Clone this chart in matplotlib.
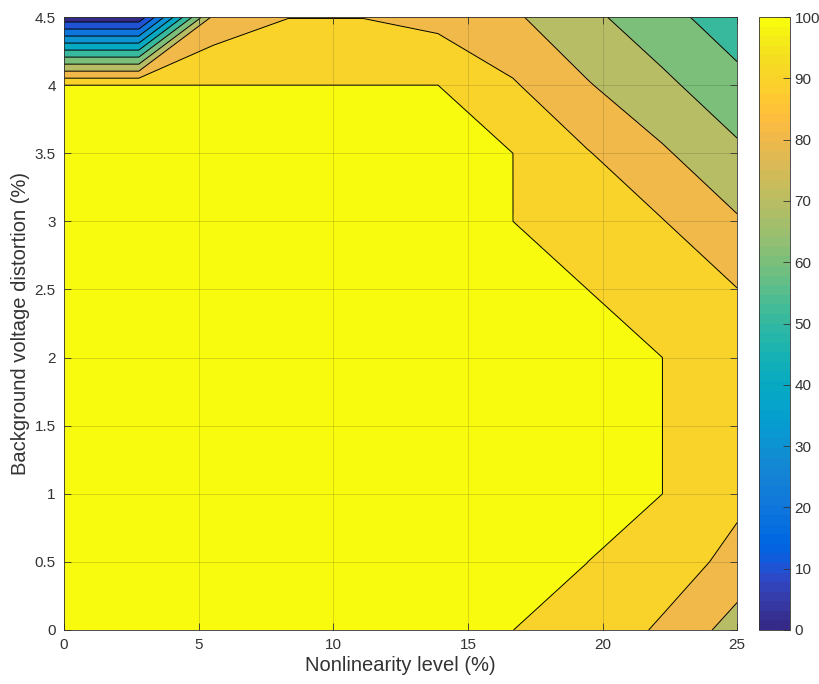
import numpy as np
import matplotlib
matplotlib.use('Agg')
import matplotlib.pyplot as plt
from matplotlib.colors import ListedColormap, Normalize
from matplotlib.cm import ScalarMappable
from matplotlib.ticker import FuncFormatter

plt.rcParams['font.family'] = ['Liberation Sans', 'DejaVu Sans']

# grid nodes: nonlinearity level (%) on x, background voltage distortion (%) on y
nonlinearity = [0, 2.78, 5.56, 8.33, 11.11, 13.89, 16.67, 19.44, 22.22, 25]
distortion = [0, 0.5, 1.0, 1.5, 2.0, 2.5, 3.0, 3.5, 4.0, 4.5]

# values, one row per distortion level (bottom to top)
row_00 = [100, 100, 100, 100, 100, 100, 100, 99, 88, 76]
row_05 = [100, 100, 100, 100, 100, 100, 100, 100, 97, 85.9]
row_10 = [100, 100, 100, 100, 100, 100, 100, 100, 100, 93]
row_15 = [100, 100, 100, 100, 100, 100, 100, 100, 100, 94]
row_20 = [100, 100, 100, 100, 100, 100, 100, 100, 100, 93]
row_25 = [100, 100, 100, 100, 100, 100, 100, 100, 95, 90.2]
row_30 = [100, 100, 100, 100, 100, 100, 100, 95, 90.4, 81]
row_35 = [100, 100, 100, 100, 100, 100, 100, 90.6, 81.3, 72]
row_40 = [100, 100, 100, 100, 100, 100, 91, 80.7, 72.3, 63]
row_45 = [3, 3, 83, 89.8, 89.8, 86.8, 81.4, 72.4, 63.4, 54.3]

# MATLAB parula (64 entries)
parula_data = [
    [0.2081, 0.1663, 0.5292], [0.2116, 0.1898, 0.5777], [0.2123, 0.2138, 0.6270],
    [0.2081, 0.2386, 0.6771], [0.1959, 0.2645, 0.7279], [0.1707, 0.2919, 0.7792],
    [0.1253, 0.3242, 0.8303], [0.0591, 0.3598, 0.8683], [0.0117, 0.3875, 0.8820],
    [0.0060, 0.4086, 0.8828], [0.0165, 0.4266, 0.8786], [0.0329, 0.4430, 0.8720],
    [0.0498, 0.4586, 0.8641], [0.0629, 0.4737, 0.8554], [0.0723, 0.4887, 0.8467],
    [0.0779, 0.5040, 0.8384], [0.0793, 0.5200, 0.8312], [0.0749, 0.5375, 0.8263],
    [0.0641, 0.5570, 0.8240], [0.0488, 0.5772, 0.8228], [0.0343, 0.5966, 0.8199],
    [0.0265, 0.6137, 0.8135], [0.0239, 0.6287, 0.8038], [0.0231, 0.6418, 0.7913],
    [0.0228, 0.6535, 0.7768], [0.0267, 0.6642, 0.7607], [0.0384, 0.6743, 0.7436],
    [0.0590, 0.6838, 0.7254], [0.0843, 0.6928, 0.7062], [0.1133, 0.7015, 0.6859],
    [0.1453, 0.7098, 0.6646], [0.1801, 0.7177, 0.6424], [0.2178, 0.7250, 0.6193],
    [0.2586, 0.7317, 0.5954], [0.3022, 0.7376, 0.5712], [0.3482, 0.7424, 0.5473],
    [0.3953, 0.7459, 0.5244], [0.4420, 0.7481, 0.5033], [0.4871, 0.7491, 0.4840],
    [0.5300, 0.7491, 0.4661], [0.5709, 0.7485, 0.4494], [0.6099, 0.7473, 0.4337],
    [0.6473, 0.7456, 0.4188], [0.6834, 0.7435, 0.4044], [0.7184, 0.7411, 0.3905],
    [0.7525, 0.7384, 0.3768], [0.7858, 0.7356, 0.3633], [0.8185, 0.7327, 0.3498],
    [0.8507, 0.7299, 0.3360], [0.8824, 0.7274, 0.3217], [0.9139, 0.7258, 0.3063],
    [0.9450, 0.7261, 0.2886], [0.9739, 0.7314, 0.2666], [0.9938, 0.7455, 0.2403],
    [0.9990, 0.7653, 0.2164], [0.9955, 0.7861, 0.1967], [0.9880, 0.8066, 0.1794],
    [0.9789, 0.8271, 0.1633], [0.9697, 0.8481, 0.1475], [0.9626, 0.8705, 0.1309],
    [0.9589, 0.8949, 0.1132], [0.9598, 0.9218, 0.0948], [0.9661, 0.9514, 0.0755],
    [0.9763, 0.9831, 0.0538]]
parula = ListedColormap(parula_data, name='parula')

Z = np.array([row_00, row_05, row_10, row_15, row_20,
              row_25, row_30, row_35, row_40, row_45])
X, Y = np.meshgrid(nonlinearity, distortion)

# like matlab contourf: each band takes the colour of its lower level,
# the plateau at 100 gets the top colour
fill_levels = [0, 10, 20, 30, 40, 50, 60, 70, 80, 90, 99.99, 101]
fill_colors = [parula(v / 100) for v in [0, 10, 20, 30, 40, 50, 60, 70, 80, 90, 100]]
line_levels = [10, 20, 30, 40, 50, 60, 70, 80, 90, 99.99]

fig = plt.figure(figsize=(8.2, 6.84), dpi=100)
ax = fig.add_axes([0.078, 0.079, 0.821, 0.896])
cax = fig.add_axes([0.926, 0.079, 0.038, 0.896])

ax.contourf(X, Y, Z, levels=fill_levels, colors=fill_colors)
ax.contour(X, Y, Z, levels=line_levels, colors='k', linewidths=0.7)

ax.set_xlim(0, 25)
ax.set_ylim(0, 4.5)
ax.set_xticks([0, 5, 10, 15, 20, 25])
ax.set_yticks([0, 0.5, 1, 1.5, 2, 2.5, 3, 3.5, 4, 4.5])
ax.yaxis.set_major_formatter(FuncFormatter(lambda v, p: '{:g}'.format(v)))
ax.tick_params(direction='in', top=True, right=True, length=5, width=0.6,
               colors='0.2', labelsize=11, pad=6)
ax.grid(True, color='0.15', alpha=0.18, linewidth=0.6)
ax.set_axisbelow(False)
for s in ax.spines.values():
    s.set_linewidth(0.6)
    s.set_color('0.2')
ax.set_xlabel('Nonlinearity level (%)', fontsize=14.5, color='0.2', labelpad=3)
ax.set_ylabel('Background voltage distortion (%)', fontsize=14.5, color='0.2', labelpad=3)

sm = ScalarMappable(norm=Normalize(0, 100), cmap=parula)
cb = fig.colorbar(sm, cax=cax)
cb.set_ticks([0, 10, 20, 30, 40, 50, 60, 70, 80, 90, 100])
cax.tick_params(direction='in', length=5, width=0.6, colors='0.2', labelsize=11, pad=3)
cb.outline.set_linewidth(0.6)
cb.outline.set_edgecolor('0.2')

fig.savefig('out.png', dpi=100)
